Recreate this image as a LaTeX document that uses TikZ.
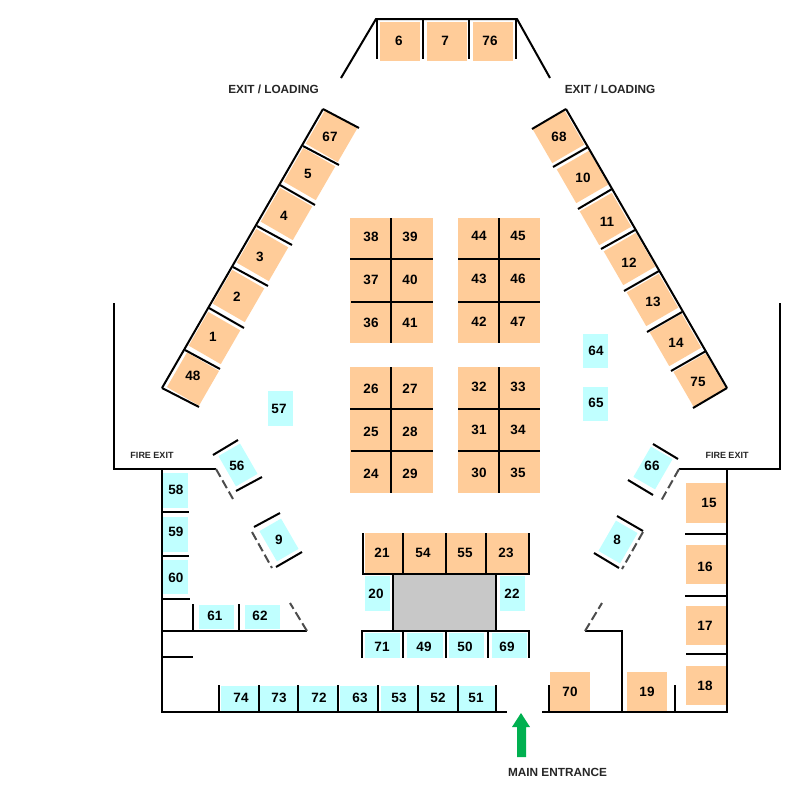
\documentclass[tikz,border=0pt]{standalone}
\usepackage{fontspec}
\setmainfont{Liberation Sans}
\definecolor{stallorange}{HTML}{FFCC99}
\definecolor{stallblue}{HTML}{C0FFFF}
\definecolor{stagegray}{HTML}{C8C8C8}
\definecolor{arrowgreen}{HTML}{00B050}
\tikzset{
	wall/.style={line width=2pt},
	dashwall/.style={line width=2pt, color=black!70, dash pattern=on 9pt off 4pt},
	num/.style={font=\fontsize{13.5}{14}\selectfont\bfseries, inner sep=0pt, text=black},
	sign/.style={font=\fontsize{11.8}{12}\selectfont\bfseries, inner sep=0pt, text=black!85},
	firesign/.style={font=\fontsize{9}{10}\selectfont\bfseries, inner sep=0pt, text=black!85},
	orangebox/.style={fill=stallorange, inner sep=0pt, minimum width=37pt, minimum height=39pt},
	bluebox/.style={fill=stallblue, inner sep=0pt, minimum width=25pt, minimum height=35pt}
}
\begin{document}
\begin{tikzpicture}[x=1pt, y=-1pt]
	\useasboundingbox (0, 0) rectangle (800, 809);

	% fonds droits, orange
	\fill[stallorange] (380, 22) rectangle (420, 61);
	\fill[stallorange] (427, 22) rectangle (467, 61);
	\fill[stallorange] (473, 22) rectangle (513, 61);
	\fill[stallorange] (350, 218) rectangle (433, 343);
	\fill[stallorange] (458, 218) rectangle (540, 343);
	\fill[stallorange] (350, 367) rectangle (433, 493);
	\fill[stallorange] (458, 367) rectangle (540, 493);
	\fill[stallorange] (365, 533) rectangle (402, 573);
	\fill[stallorange] (404, 533) rectangle (445, 573);
	\fill[stallorange] (447, 533) rectangle (485, 573);
	\fill[stallorange] (487, 533) rectangle (528, 573);
	\fill[stallorange] (550, 672) rectangle (590, 711);
	\fill[stallorange] (627, 672) rectangle (667, 711);
	\fill[stallorange] (686, 483) rectangle (726, 523);
	\fill[stallorange] (686, 545) rectangle (726, 584);
	\fill[stallorange] (686, 606) rectangle (726, 645);
	\fill[stallorange] (686, 666) rectangle (726, 705);

	% fonds droits, bleu
	\fill[stallblue] (268, 391) rectangle (293, 426);
	\fill[stallblue] (583, 334) rectangle (608, 368);
	\fill[stallblue] (583, 387) rectangle (608, 421);
	\fill[stallblue] (163, 473) rectangle (188, 508);
	\fill[stallblue] (163, 517) rectangle (188, 552);
	\fill[stallblue] (163, 560) rectangle (188, 594);
	\fill[stallblue] (199, 605) rectangle (234, 629);
	\fill[stallblue] (245, 605) rectangle (280, 629);
	\fill[stallblue] (365, 576) rectangle (390, 611);
	\fill[stallblue] (500, 576) rectangle (525, 611);
	\fill[stallblue] (365, 633) rectangle (400, 658);
	\fill[stallblue] (407, 633) rectangle (443, 658);
	\fill[stallblue] (449, 633) rectangle (484, 658);
	\fill[stallblue] (492, 633) rectangle (527, 658);
	\fill[stallblue] (221, 686) rectangle (258, 711);
	\fill[stallblue] (260, 686) rectangle (297, 711);
	\fill[stallblue] (299, 686) rectangle (337, 711);
	\fill[stallblue] (340, 686) rectangle (377, 711);
	\fill[stallblue] (381, 686) rectangle (417, 711);
	\fill[stallblue] (419, 686) rectangle (457, 711);
	\fill[stallblue] (459, 686) rectangle (495, 711);

	% scene
	\fill[stagegray] (393, 574) rectangle (496, 631);

	% rangee gauche
	\node[orangebox, rotate=-30] (b67) at (331.5, 136) {};
	\node[orangebox, rotate=-30] (b5) at (309.5, 174) {};
	\node[orangebox, rotate=-30] (b4) at (286.5, 214) {};
	\node[orangebox, rotate=-30] (b3) at (262.5, 255) {};
	\node[orangebox, rotate=-30] (b2) at (238.5, 296) {};
	\node[orangebox, rotate=-30] (b1) at (214.5, 338) {};
	\node[orangebox, rotate=-30, minimum height=40pt] (b48) at (193, 379) {};

	% rangee droite
	\node[orangebox, rotate=30] (b68) at (558.5, 137) {};
	\node[orangebox, rotate=30] (b10) at (582.5, 177) {};
	\node[orangebox, rotate=30] (b11) at (605.5, 219) {};
	\node[orangebox, rotate=30] (b12) at (629.5, 259) {};
	\node[orangebox, rotate=30] (b13) at (652.5, 300) {};
	\node[orangebox, rotate=30] (b14) at (675.5, 340) {};
	\node[orangebox, rotate=30, minimum height=40pt] (b75) at (699.5, 380) {};

	% bleus inclines
	\node[bluebox, rotate=30] (b56) at (238, 465) {};
	\node[bluebox, rotate=30] (b9) at (279, 540) {};
	\node[bluebox, rotate=-30] (b66) at (653, 468) {};
	\node[bluebox, rotate=-30] (b8) at (618, 542) {};

	% murs exterieurs
	\draw[wall] (114, 303) -- (114, 469) -- (216, 469);
	\draw[wall] (780, 303) -- (780, 469) -- (679, 469);
	\draw[wall] (162, 469) -- (162, 712) -- (507, 712);
	\draw[wall] (727, 469) -- (727, 712) -- (542, 712);

	% entree du haut
	\draw[wall] (341, 78) -- (376, 19) -- (517, 19) -- (550, 78);
	\draw[wall] (377, 19) -- (377, 59);
	\draw[wall] (423, 19) -- (423, 59);
	\draw[wall] (469, 19) -- (469, 59);
	\draw[wall] (516, 19) -- (516, 59);

	% mur incline gauche
	\draw[wall] (323, 109) -- (162, 388);
	\draw[wall] (323, 109) -- (359, 128);
	\draw[wall] (303, 146) -- (339, 165);
	\draw[wall] (280, 185) -- (315, 205);
	\draw[wall] (257, 226) -- (292, 245);
	\draw[wall] (233, 267) -- (268, 286);
	\draw[wall] (209, 308) -- (244, 328);
	\draw[wall] (185, 350) -- (220, 369);
	\draw[wall] (162, 388) -- (199, 407);

	% mur incline droit
	\draw[wall] (566, 109) -- (727, 388);
	\draw[wall] (566, 109) -- (532, 129);
	\draw[wall] (588, 147) -- (553, 167);
	\draw[wall] (612, 189) -- (578, 209);
	\draw[wall] (635, 230) -- (601, 249);
	\draw[wall] (659, 271) -- (624, 291);
	\draw[wall] (682, 312) -- (647, 332);
	\draw[wall] (706, 351) -- (671, 371);
	\draw[wall] (727, 388) -- (693, 408);

	% separations des blocs
	\draw[wall] (391, 218) -- (391, 343);
	\draw[wall] (499, 218) -- (499, 343);
	\draw[wall] (391, 367) -- (391, 493);
	\draw[wall] (499, 367) -- (499, 493);
	\draw[wall] (350, 259) -- (433, 259);
	\draw[wall] (351, 302) -- (433, 302);
	\draw[wall] (458, 259) -- (540, 259);
	\draw[wall] (458, 302) -- (540, 302);
	\draw[wall] (350, 409) -- (433, 409);
	\draw[wall] (351, 451) -- (433, 451);
	\draw[wall] (458, 409) -- (540, 409);
	\draw[wall] (458, 451) -- (540, 451);

	% cotes a gauche
	\draw[wall] (162, 512) -- (189, 512);
	\draw[wall] (162, 556) -- (189, 556);
	\draw[wall] (162, 599) -- (190, 599);
	\draw[wall] (162, 631) -- (307, 631);
	\draw[wall] (193, 604) -- (193, 631);
	\draw[wall] (239, 604) -- (239, 631);
	\draw[wall] (162, 657) -- (193, 657);

	% cotes a droite
	\draw[wall] (685, 534) -- (727, 534);
	\draw[wall] (685, 596) -- (727, 596);
	\draw[wall] (686, 654) -- (727, 654);
	\draw[wall] (585, 631) -- (622, 631) -- (622, 712);
	\draw[wall] (675, 685) -- (675, 712);
	\draw[wall] (549, 685) -- (549, 712);

	% rangee du bas
	\draw[wall] (219, 685) -- (219, 712);
	\draw[wall] (259, 685) -- (259, 712);
	\draw[wall] (298, 685) -- (298, 712);
	\draw[wall] (338, 685) -- (338, 712);
	\draw[wall] (378, 685) -- (378, 712);
	\draw[wall] (418, 685) -- (418, 712);
	\draw[wall] (458, 685) -- (458, 712);
	\draw[wall] (496, 685) -- (496, 712);

	% groupe central
	\draw[wall] (363, 533) -- (363, 574) -- (529, 574) -- (529, 533);
	\draw[wall] (403, 533) -- (403, 574);
	\draw[wall] (446, 533) -- (446, 574);
	\draw[wall] (486, 533) -- (486, 574);
	\draw[wall] (393, 574) -- (393, 631);
	\draw[wall] (496, 574) -- (496, 631);
	\draw[wall] (362, 658) -- (362, 631) -- (529, 631) -- (529, 658);
	\draw[wall] (403, 631) -- (403, 658);
	\draw[wall] (446, 631) -- (446, 658);
	\draw[wall] (488, 631) -- (488, 658);

	% petits traits inclines
	\draw[wall] (213, 455) -- (238, 440);
	\draw[wall] (236, 491) -- (262, 477);
	\draw[wall] (254, 527) -- (280, 513);
	\draw[wall] (276, 567) -- (302, 552);
	\draw[wall] (653, 444) -- (678, 459);
	\draw[wall] (628, 480) -- (653, 495);
	\draw[wall] (617, 516) -- (643, 531);
	\draw[wall] (594, 553) -- (619, 568);

	% portes en pointilles
	\draw[dashwall] (216, 469) -- (233, 499);
	\draw[dashwall] (252, 532) -- (272, 568);
	\draw[dashwall] (307, 631) -- (290, 603);
	\draw[dashwall] (679, 469) -- (661, 501);
	\draw[dashwall] (643, 532) -- (622, 569);
	\draw[dashwall] (585, 631) -- (602, 603);

	% fleche de l'entree
	\fill[arrowgreen] (521, 713) -- (530, 727) -- (526, 727) -- (526, 757) -- (517, 757) -- (517, 727) -- (512, 727) -- cycle;

	% numeros du haut
	\node[num] (n6) at (399, 41) {6};
	\node[num] (n7) at (445, 41) {7};
	\node[num] (n76) at (490, 41) {76};

	% numeros des rangees
	\node[num] (n67) at (330, 137) {67};
	\node[num] (n5) at (308, 174) {5};
	\node[num] (n4) at (284, 216) {4};
	\node[num] (n3) at (260, 257) {3};
	\node[num] (n2) at (237, 297) {2};
	\node[num] (n1) at (213, 337) {1};
	\node[num] (n48) at (193, 376) {48};
	\node[num] (n68) at (559, 137) {68};
	\node[num] (n10) at (583, 178) {10};
	\node[num] (n11) at (607, 222) {11};
	\node[num] (n12) at (629, 263) {12};
	\node[num] (n13) at (653, 302) {13};
	\node[num] (n14) at (676, 343) {14};
	\node[num] (n75) at (698, 382) {75};

	% numeros des blocs
	\node[num] (n38) at (371, 237) {38};
	\node[num] (n39) at (410, 237) {39};
	\node[num] (n37) at (371, 280) {37};
	\node[num] (n40) at (410, 280) {40};
	\node[num] (n36) at (371, 323) {36};
	\node[num] (n41) at (410, 323) {41};
	\node[num] (n44) at (479, 236) {44};
	\node[num] (n45) at (518, 236) {45};
	\node[num] (n43) at (479, 279) {43};
	\node[num] (n46) at (518, 279) {46};
	\node[num] (n42) at (479, 322) {42};
	\node[num] (n47) at (518, 322) {47};
	\node[num] (n26) at (371, 389) {26};
	\node[num] (n27) at (410, 389) {27};
	\node[num] (n25) at (371, 432) {25};
	\node[num] (n28) at (410, 432) {28};
	\node[num] (n24) at (371, 474) {24};
	\node[num] (n29) at (410, 474) {29};
	\node[num] (n32) at (479, 387) {32};
	\node[num] (n33) at (518, 387) {33};
	\node[num] (n31) at (479, 430) {31};
	\node[num] (n34) at (518, 430) {34};
	\node[num] (n30) at (479, 473) {30};
	\node[num] (n35) at (518, 473) {35};

	% numeros du groupe central
	\node[num] (n21) at (382, 553) {21};
	\node[num] (n54) at (423, 553) {54};
	\node[num] (n55) at (465, 553) {55};
	\node[num] (n23) at (506, 553) {23};
	\node[num] (n20) at (376, 594) {20};
	\node[num] (n22) at (512, 594) {22};
	\node[num] (n71) at (382, 647) {71};
	\node[num] (n49) at (424, 647) {49};
	\node[num] (n50) at (465, 647) {50};
	\node[num] (n69) at (507, 647) {69};

	% numeros du bas
	\node[num] (n74) at (241, 698) {74};
	\node[num] (n73) at (279, 698) {73};
	\node[num] (n72) at (319, 698) {72};
	\node[num] (n63) at (360, 698) {63};
	\node[num] (n53) at (399, 698) {53};
	\node[num] (n52) at (438, 698) {52};
	\node[num] (n51) at (476, 698) {51};
	\node[num] (n70) at (570, 692) {70};
	\node[num] (n19) at (647, 692) {19};
	\node[num] (n18) at (705, 686) {18};
	\node[num] (n17) at (705, 626) {17};
	\node[num] (n16) at (705, 567) {16};
	\node[num] (n15) at (709, 503) {15};

	% autres numeros
	\node[num] (n57) at (279, 409) {57};
	\node[num] (n56) at (237, 466) {56};
	\node[num] (n9) at (279, 540) {9};
	\node[num] (n58) at (176, 490) {58};
	\node[num] (n59) at (176, 532) {59};
	\node[num] (n60) at (176, 578) {60};
	\node[num] (n61) at (215, 616) {61};
	\node[num] (n62) at (260, 616) {62};
	\node[num] (n64) at (596, 351) {64};
	\node[num] (n65) at (596, 403) {65};
	\node[num] (n66) at (652, 466) {66};
	\node[num] (n8) at (617, 540) {8};

	% panneaux
	\node[sign] (exitleft) at (273.5, 89) {EXIT / LOADING};
	\node[sign] (exitright) at (610, 89) {EXIT / LOADING};
	\node[firesign] (fireleft) at (152, 455) {FIRE EXIT};
	\node[firesign] (fireright) at (727, 455) {FIRE EXIT};
	\node[sign] (mainentrance) at (557.5, 772) {MAIN ENTRANCE};
\end{tikzpicture}
\end{document}
